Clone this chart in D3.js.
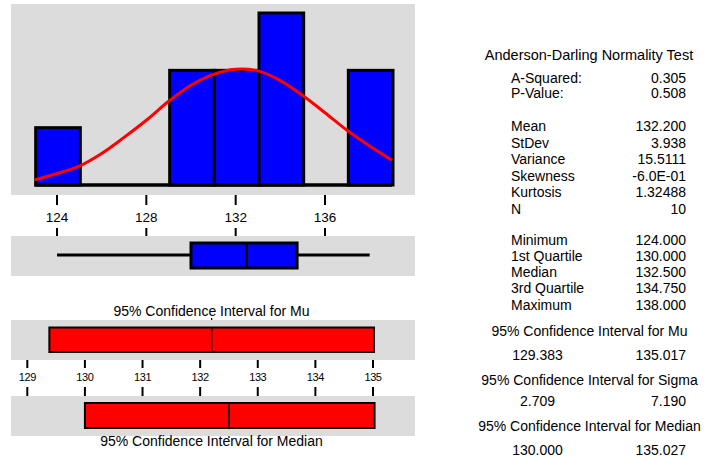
<!DOCTYPE html>
<html>
<head>
<meta charset="utf-8">
<script src="https://cdn.jsdelivr.net/npm/d3@7"></script>
<style>
  html, body { margin: 0; padding: 0; background: #fff; }
  svg text { font-family: "Liberation Sans", Arial, sans-serif; fill: #000; }
</style>
</head>
<body>
<svg id="chart" width="704" height="464"></svg>
<script>
// Histogram bins (edges) and counts
const binEdges = [123, 125, 127, 129, 131, 133, 135, 137, 139];
const binCounts = [1, 0, 0, 2, 2, 3, 0, 2];

// Fitted normal curve, expressed in counts per bin
const curveX = [123, 124, 125, 126, 127, 128, 129, 130, 131, 132, 133, 134, 135, 136, 137, 138, 139];
const curveY = [0.09, 0.20, 0.33, 0.55, 0.83, 1.13, 1.46, 1.74, 1.93, 2.02, 1.99, 1.82, 1.56, 1.26, 0.95, 0.68, 0.43];

// Five-number summary for the box plot
const boxKeys = ["min", "q1", "median", "q3", "max"];
const boxValues = [124, 130, 132.5, 134.75, 138];

// Confidence intervals
const muInterval = [129.383, 135.017];
const muPoint = 132.2;
const medianInterval = [130.000, 135.027];
const medianPoint = 132.5;

// Axis ticks
const histTicks = [124, 128, 132, 136];
const ciTicks = [129, 130, 131, 132, 133, 134, 135];

// Summary table
const testTitle = "Anderson-Darling Normality Test";
const adLabels = ["A-Squared:", "P-Value:"];
const adValues = ["0.305", "0.508"];
const momentLabels = ["Mean", "StDev", "Variance", "Skewness", "Kurtosis", "N"];
const momentValues = ["132.200", "3.938", "15.5111", "-6.0E-01", "1.32488", "10"];
const quantLabels = ["Minimum", "1st Quartile", "Median", "3rd Quartile", "Maximum"];
const quantValues = ["124.000", "130.000", "132.500", "134.750", "138.000"];
const ciTitles = ["95% Confidence Interval for Mu", "95% Confidence Interval for Sigma", "95% Confidence Interval for Median"];
const ciLows = ["129.383", "2.709", "130.000"];
const ciHighs = ["135.017", "7.190", "135.027"];

const svg = d3.select("#chart");
const panelFill = "#dcdcdc";
const panelX0 = 11, panelX1 = 415;

// ---------- Histogram panel ----------
const x = d3.scaleLinear().domain([124, 136]).range([57, 325]);
const y = d3.scaleLinear().domain([0, 3]).range([185, 13]);

svg.append("rect").attr("x", panelX0).attr("y", 4).attr("width", panelX1 - panelX0).attr("height", 191).attr("fill", panelFill);

// baseline under empty bins
svg.append("line")
  .attr("x1", x(binEdges[0])).attr("x2", x(binEdges[binEdges.length - 1]))
  .attr("y1", y(0)).attr("y2", y(0))
  .attr("stroke", "#000").attr("stroke-width", 3.5);

const bins = binCounts.map((c, i) => ({ x0: binEdges[i], x1: binEdges[i + 1], c }));
svg.append("g").selectAll("rect")
  .data(bins.filter(d => d.c > 0))
  .join("rect")
  .attr("x", d => x(d.x0) + 1)
  .attr("y", d => y(d.c))
  .attr("width", d => x(d.x1) - x(d.x0))
  .attr("height", d => y(0) - y(d.c))
  .attr("fill", "#0000ff")
  .attr("stroke", "#000")
  .attr("stroke-width", 3);

const line = d3.line().x((d, i) => x(curveX[i])).y(d => y(d)).curve(d3.curveCatmullRom);
svg.append("path")
  .attr("d", line(curveY))
  .attr("fill", "none")
  .attr("stroke", "#ff0000")
  .attr("stroke-width", 3)
  .attr("stroke-linejoin", "round");

// tick marks above and below the labels
const histAxis = svg.append("g");
histTicks.forEach(t => {
  histAxis.append("line").attr("x1", x(t)).attr("x2", x(t)).attr("y1", 195).attr("y2", 205).attr("stroke", "#000").attr("stroke-width", 2);
  histAxis.append("line").attr("x1", x(t)).attr("x2", x(t)).attr("y1", 228).attr("y2", 236).attr("stroke", "#000").attr("stroke-width", 2);
  histAxis.append("text").attr("x", x(t)).attr("y", 217).attr("dy", "0.35em")
    .attr("text-anchor", "middle").attr("font-size", 13.5).text(t);
});

// ---------- Box plot panel ----------
const box = Object.fromEntries(boxKeys.map((k, i) => [k, boxValues[i]]));
svg.append("rect").attr("x", panelX0).attr("y", 236).attr("width", panelX1 - panelX0).attr("height", 40).attr("fill", panelFill);
svg.append("line").attr("x1", x(box.min)).attr("x2", x(box.max)).attr("y1", 255).attr("y2", 255)
  .attr("stroke", "#000").attr("stroke-width", 3);
svg.append("rect").attr("x", x(box.q1)).attr("y", 243).attr("width", x(box.q3) - x(box.q1)).attr("height", 25)
  .attr("fill", "#0000ff").attr("stroke", "#000").attr("stroke-width", 3);
svg.append("line").attr("x1", x(box.median)).attr("x2", x(box.median)).attr("y1", 243).attr("y2", 268)
  .attr("stroke", "#000").attr("stroke-width", 2.5);

// ---------- Confidence interval panels ----------
const xc = d3.scaleLinear().domain([129, 135]).range([27.3, 373]);

svg.append("text").attr("x", 211.5).attr("y", 311.5).attr("dy", "0.35em").attr("text-anchor", "middle")
  .attr("font-size", 14).text(ciTitles[0]);
svg.append("rect").attr("x", panelX0).attr("y", 320).attr("width", panelX1 - panelX0).attr("height", 40).attr("fill", panelFill);
svg.append("rect").attr("x", xc(muInterval[0])).attr("y", 327.5).attr("width", xc(muInterval[1]) - xc(muInterval[0])).attr("height", 24.5)
  .attr("fill", "#ff0000").attr("stroke", "#000").attr("stroke-width", 2);
svg.append("line").attr("x1", xc(muPoint)).attr("x2", xc(muPoint)).attr("y1", 327.5).attr("y2", 352)
  .attr("stroke", "#000").attr("stroke-width", 1.5);
svg.append("line").attr("x1", xc(muPoint)).attr("x2", xc(muPoint)).attr("y1", 318).attr("y2", 320)
  .attr("stroke", "#000").attr("stroke-width", 1.2);

const ciAxis = svg.append("g");
ciTicks.forEach(t => {
  ciAxis.append("line").attr("x1", xc(t)).attr("x2", xc(t)).attr("y1", 360).attr("y2", 368).attr("stroke", "#000").attr("stroke-width", 2);
  ciAxis.append("line").attr("x1", xc(t)).attr("x2", xc(t)).attr("y1", 387).attr("y2", 396).attr("stroke", "#000").attr("stroke-width", 2);
  ciAxis.append("text").attr("x", xc(t)).attr("y", 377).attr("dy", "0.35em")
    .attr("text-anchor", "middle").attr("font-size", 11).attr("letter-spacing", -0.4).text(t);
});

svg.append("rect").attr("x", panelX0).attr("y", 396).attr("width", panelX1 - panelX0).attr("height", 40).attr("fill", panelFill);
svg.append("rect").attr("x", xc(medianInterval[0])).attr("y", 403).attr("width", xc(medianInterval[1]) - xc(medianInterval[0])).attr("height", 25)
  .attr("fill", "#ff0000").attr("stroke", "#000").attr("stroke-width", 2);
svg.append("line").attr("x1", xc(medianPoint)).attr("x2", xc(medianPoint)).attr("y1", 403).attr("y2", 428)
  .attr("stroke", "#000").attr("stroke-width", 1.5);
svg.append("line").attr("x1", xc(medianPoint)).attr("x2", xc(medianPoint)).attr("y1", 436).attr("y2", 438)
  .attr("stroke", "#000").attr("stroke-width", 1.2);
svg.append("text").attr("x", 211.5).attr("y", 441.5).attr("dy", "0.35em").attr("text-anchor", "middle")
  .attr("font-size", 14).text(ciTitles[2]);

// ---------- Summary table ----------
const tbl = svg.append("g").attr("font-size", 14);
const labelX = 511, valueX = 686;
function rows(labels, values, ys) {
  labels.forEach((l, i) => {
    tbl.append("text").attr("x", labelX).attr("y", ys[i]).attr("dy", "0.35em").text(l);
    tbl.append("text").attr("x", valueX).attr("y", ys[i]).attr("dy", "0.35em").attr("text-anchor", "end").text(values[i]);
  });
}
tbl.append("text").attr("x", 589).attr("y", 55).attr("dy", "0.35em").attr("text-anchor", "middle").attr("font-size", 14.5).text(testTitle);
rows(adLabels, adValues, [78.5, 93.5]);
rows(momentLabels, momentValues, [126.5, 143, 159.5, 176, 192.5, 209]);
rows(quantLabels, quantValues, [240, 256, 272, 288.5, 305]);

const ciHeadY = [331.5, 380, 426.5];
const ciValY = [355, 401.5, 450.5];
ciTitles.forEach((t, i) => {
  tbl.append("text").attr("x", 589.5).attr("y", ciHeadY[i]).attr("dy", "0.35em").attr("text-anchor", "middle").text(t);
  tbl.append("text").attr("x", 537.5).attr("y", ciValY[i]).attr("dy", "0.35em").attr("text-anchor", "middle").text(ciLows[i]);
  tbl.append("text").attr("x", valueX).attr("y", ciValY[i]).attr("dy", "0.35em").attr("text-anchor", "end").text(ciHighs[i]);
});
</script>
</body>
</html>
